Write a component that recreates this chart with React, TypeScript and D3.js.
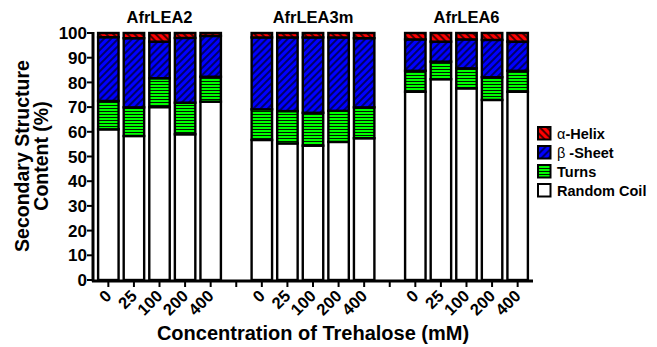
import React from 'react'
import * as d3 from 'd3'

// values (% of each structure, bottom -> top)
const groups = ['AfrLEA2', 'AfrLEA3m', 'AfrLEA6']
const concentrations = ['0', '25', '100', '200', '400']
const randomCoil = [61, 58.3, 70, 59, 72.2, 56.7, 55.3, 54.4, 55.9, 57.4, 76.2, 81.3, 77.6, 72.9, 76.2]
const turns = [11.5, 11.6, 11.7, 12.8, 10.1, 12.4, 13.1, 13.3, 12.6, 12.5, 8.5, 7.1, 8.1, 9.2, 8.5]
const betaSheet = [25.8, 28, 14.8, 26.2, 16.5, 29.1, 29.8, 30.5, 29.7, 28, 12.7, 8.1, 11.7, 15.1, 11.8]
const alphaHelix = [1.7, 2.1, 3.5, 2, 1.2, 1.8, 1.8, 1.8, 1.8, 2.1, 2.6, 3.5, 2.6, 2.8, 3.5]
const yTicks = [0, 10, 20, 30, 40, 50, 60, 70, 80, 90, 100]

const W = 657
const H = 347
const FONT = 'Arial, "Liberation Sans", sans-serif'

const keys = ['coil', 'turns', 'beta', 'alpha']
const fills: Record<string, string> = {
  coil: '#ffffff',
  turns: 'url(#pat-turns)',
  beta: 'url(#pat-beta)',
  alpha: 'url(#pat-alpha)',
}

export default function App() {
  // slot list: 5 bars, a gap, 5 bars, a gap, 5 bars
  const slots: string[] = []
  groups.forEach((g, gi) => {
    concentrations.forEach(c => slots.push(g + '|' + c))
    if (gi < groups.length - 1) slots.push('gap' + gi)
  })

  const rows = slots
    .filter(s => !s.startsWith('gap'))
    .map((s, i) => ({
      slot: s,
      coil: randomCoil[i],
      turns: turns[i],
      beta: betaSheet[i],
      alpha: alphaHelix[i],
    }))

  const x = d3.scaleBand<string>().domain(slots).range([93, 533]).paddingInner(0.2).paddingOuter(0.2)
  const y = d3.scaleLinear().domain([0, 100]).range([280, 33])
  const stack = d3.stack<any>().keys(keys)(rows)

  const legend = [
    { key: 'alpha', label: 'α', rest: '-Helix' },
    { key: 'beta', label: 'β', rest: ' -Sheet' },
    { key: 'turns', label: '', rest: 'Turns' },
    { key: 'coil', label: '', rest: 'Random Coil' },
  ]

  return (
    <svg width={W} height={H} style={{ display: 'block', position: 'absolute', left: 0, top: 0 }} fontFamily={FONT}>
      <defs>
        <pattern id="pat-alpha" width="5" height="5" patternUnits="userSpaceOnUse" patternTransform="rotate(-45)">
          <rect width="5" height="5" fill="#ff0000" />
          <line x1="1" y1="0" x2="1" y2="5" stroke="#000" strokeWidth="1.4" />
        </pattern>
        <pattern id="pat-beta" width="5" height="5" patternUnits="userSpaceOnUse" patternTransform="rotate(45)">
          <rect width="5" height="5" fill="#0000ff" />
          <line x1="1" y1="0" x2="1" y2="5" stroke="#000" strokeWidth="1.2" />
        </pattern>
        <pattern id="pat-turns" width="4" height="3" patternUnits="userSpaceOnUse">
          <rect width="4" height="3" fill="#00ff00" />
          <line x1="0" y1="0.5" x2="4" y2="0.5" stroke="#000" strokeWidth="0.9" />
        </pattern>
      </defs>
      <rect width={W} height={H} fill="#fff" />

      {/* bars */}
      {stack.map(layer =>
        layer.map((d: any) => (
          <rect
            key={layer.key + d.data.slot}
            x={x(d.data.slot)}
            y={y(d[1])}
            width={x.bandwidth()}
            height={y(d[0]) - y(d[1])}
            fill={fills[layer.key]}
            stroke="#000"
            strokeWidth={2.4}
          />
        ))
      )}

      {/* y axis */}
      <line x1={93} x2={93} y1={y(100) - 1} y2={y(0) + 1.5} stroke="#000" strokeWidth={3} />
      {yTicks.map(t => (
        <g key={t} transform={`translate(93,${y(t)})`}>
          <line x1={-6} x2={0} stroke="#000" strokeWidth={2} />
          <text x={-6} dy="0.36em" textAnchor="end" fontSize={17} fontWeight="bold">{t}</text>
        </g>
      ))}

      {/* x axis */}
      <line x1={92} x2={533} y1={y(0) + 1} y2={y(0) + 1} stroke="#000" strokeWidth={3} />
      {slots.map(s => {
        const cx = (x(s) as number) + x.bandwidth() / 2
        const gap = s.startsWith('gap')
        return (
          <g key={s} transform={`translate(${cx},${y(0) + 1})`}>
            <line y1={0} y2={6} stroke="#000" strokeWidth={2} />
            {!gap && (
              <text
                transform="translate(0,12) rotate(-45)"
                textAnchor="end"
                dy="0.35em"
                fontSize={16.5}
                fontWeight="bold"
              >
                {s.split('|')[1]}
              </text>
            )}
          </g>
        )
      })}

      {/* group titles */}
      {groups.map(g => {
        const a = x(g + '|' + concentrations[0]) as number
        const b = (x(g + '|' + concentrations[concentrations.length - 1]) as number) + x.bandwidth()
        return (
          <text key={g} x={(a + b) / 2} y={23} textAnchor="middle" fontSize={16.5} fontWeight="bold">{g}</text>
        )
      })}

      {/* axis titles */}
      <text transform="translate(29,156) rotate(-90)" textAnchor="middle" fontSize={19.5} fontWeight="bold">
        Secondary Structure
      </text>
      <text transform="translate(48,156) rotate(-90)" textAnchor="middle" fontSize={19.5} fontWeight="bold">
        Content (%)
      </text>
      <text x={313} y={340} textAnchor="middle" fontSize={20} fontWeight="bold">
        Concentration of Trehalose (mM)
      </text>

      {/* legend */}
      {legend.map((l, i) => (
        <g key={l.key} transform={`translate(538,${127 + i * 19})`}>
          <rect width={12.5} height={12.5} fill={fills[l.key]} stroke="#000" strokeWidth={2} />
          <text x={19} y={12} fontSize={14.5} fontWeight="bold">
            {l.label && <tspan fontWeight="normal">{l.label}</tspan>}
            {l.rest}
          </text>
        </g>
      ))}
    </svg>
  )
}
